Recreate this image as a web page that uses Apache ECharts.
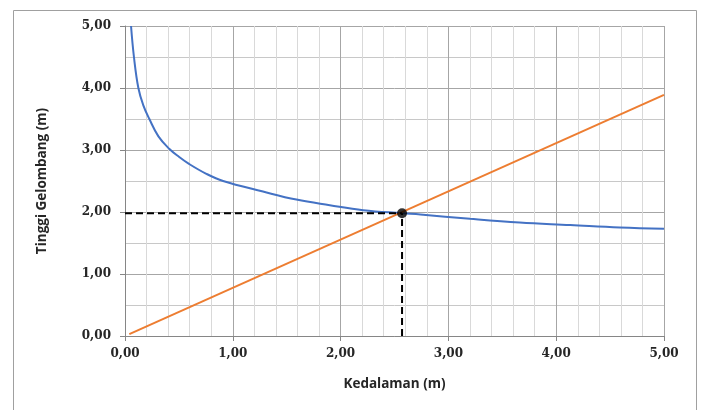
<!DOCTYPE html>
<html><head><meta charset="utf-8">
<script src="https://cdn.jsdelivr.net/npm/echarts@6/dist/echarts.min.js"></script>
<style>html,body{margin:0;padding:0;background:#fff}#c{width:702px;height:410px}</style>
</head><body><div id="c"></div>
<script>
const blueX = [0.056,0.083,0.124,0.17,0.226,0.31,0.41,0.5,0.59,0.75,0.91,1.28,1.59,1.90,2.21,2.57,2.74,3.20,3.66,4.13,4.59,5.0];
const blueY = [5.0,4.5,4.0,3.72,3.5,3.22,3.02,2.89,2.78,2.62,2.5,2.33,2.20,2.11,2.03,1.98,1.96,1.89,1.83,1.79,1.75,1.73];
const orangeX = [0.04,5.0];
const orangeY = [0.03,3.89];
const cross = [2.57,1.98];
const xTicks = ['0,00','1,00','2,00','3,00','4,00','5,00'];
const yTicks = ['0,00','1,00','2,00','3,00','4,00','5,00'];

const chart = echarts.init(document.getElementById('c'));
const tickFont = {fontFamily:'DejaVu Serif', fontWeight:'bold', fontSize:12, color:'#262626'};
chart.setOption({
  animation:false,
  graphic:[{type:'rect', shape:{x:13.5,y:10.5,width:683,height:420}, style:{fill:'none',stroke:'#a0a0a0',lineWidth:1}, z:-1}],
  grid:{left:125,right:38,top:26,bottom:74},
  xAxis:{type:'value',min:0,max:5,interval:1,
    name:'Kedalaman (m)',nameLocation:'middle',nameGap:41,
    nameTextStyle:{fontFamily:'Open Sans',fontWeight:'bold',fontSize:13.5,color:'#262626'},
    axisLine:{show:true,lineStyle:{color:'#868686'}},
    axisTick:{show:true,length:5,lineStyle:{color:'#868686'}},
    axisLabel:Object.assign({margin:12,formatter:(v)=>xTicks[Math.round(v)]},tickFont),
    splitLine:{show:true,lineStyle:{color:'#a6a6a6'}},
    minorTick:{show:false,splitNumber:5},
    minorSplitLine:{show:true,lineStyle:{color:'#d9d9d9'}}},
  yAxis:{type:'value',min:0,max:5,interval:1,
    name:'Tinggi Gelombang (m)',nameLocation:'middle',nameGap:76,
    nameTextStyle:{fontFamily:'Open Sans',fontWeight:'bold',fontSize:13.5,color:'#262626'},
    axisLine:{show:true,lineStyle:{color:'#868686'}},
    axisTick:{show:true,length:5,lineStyle:{color:'#868686'}},
    axisLabel:Object.assign({margin:14,formatter:(v)=>yTicks[Math.round(v)]},tickFont),
    splitLine:{show:true,lineStyle:{color:'#a6a6a6'}},
    minorTick:{show:false,splitNumber:2},
    minorSplitLine:{show:true,lineStyle:{color:'#c8c8c8'}}},
  series:[
    {type:'line',data:blueX.map((x,i)=>[x,blueY[i]]),smooth:0.4,showSymbol:false,
      lineStyle:{color:'#4472C4',width:2},z:3},
    {type:'line',data:orangeX.map((x,i)=>[x,orangeY[i]]),showSymbol:false,
      lineStyle:{color:'#ED7D31',width:2},z:3},
    {type:'line',data:[[0,cross[1]],[cross[0],cross[1]]],showSymbol:false,
      lineStyle:{color:'#000',width:2,type:[7,4]},z:4},
    {type:'line',data:[[cross[0],0],[cross[0],cross[1]]],showSymbol:false,
      lineStyle:{color:'#000',width:2,type:[7,4]},z:4},
    {type:'scatter',data:[cross],symbolSize:10,itemStyle:{color:'#000'},z:5}
  ]
});
</script></body></html>
